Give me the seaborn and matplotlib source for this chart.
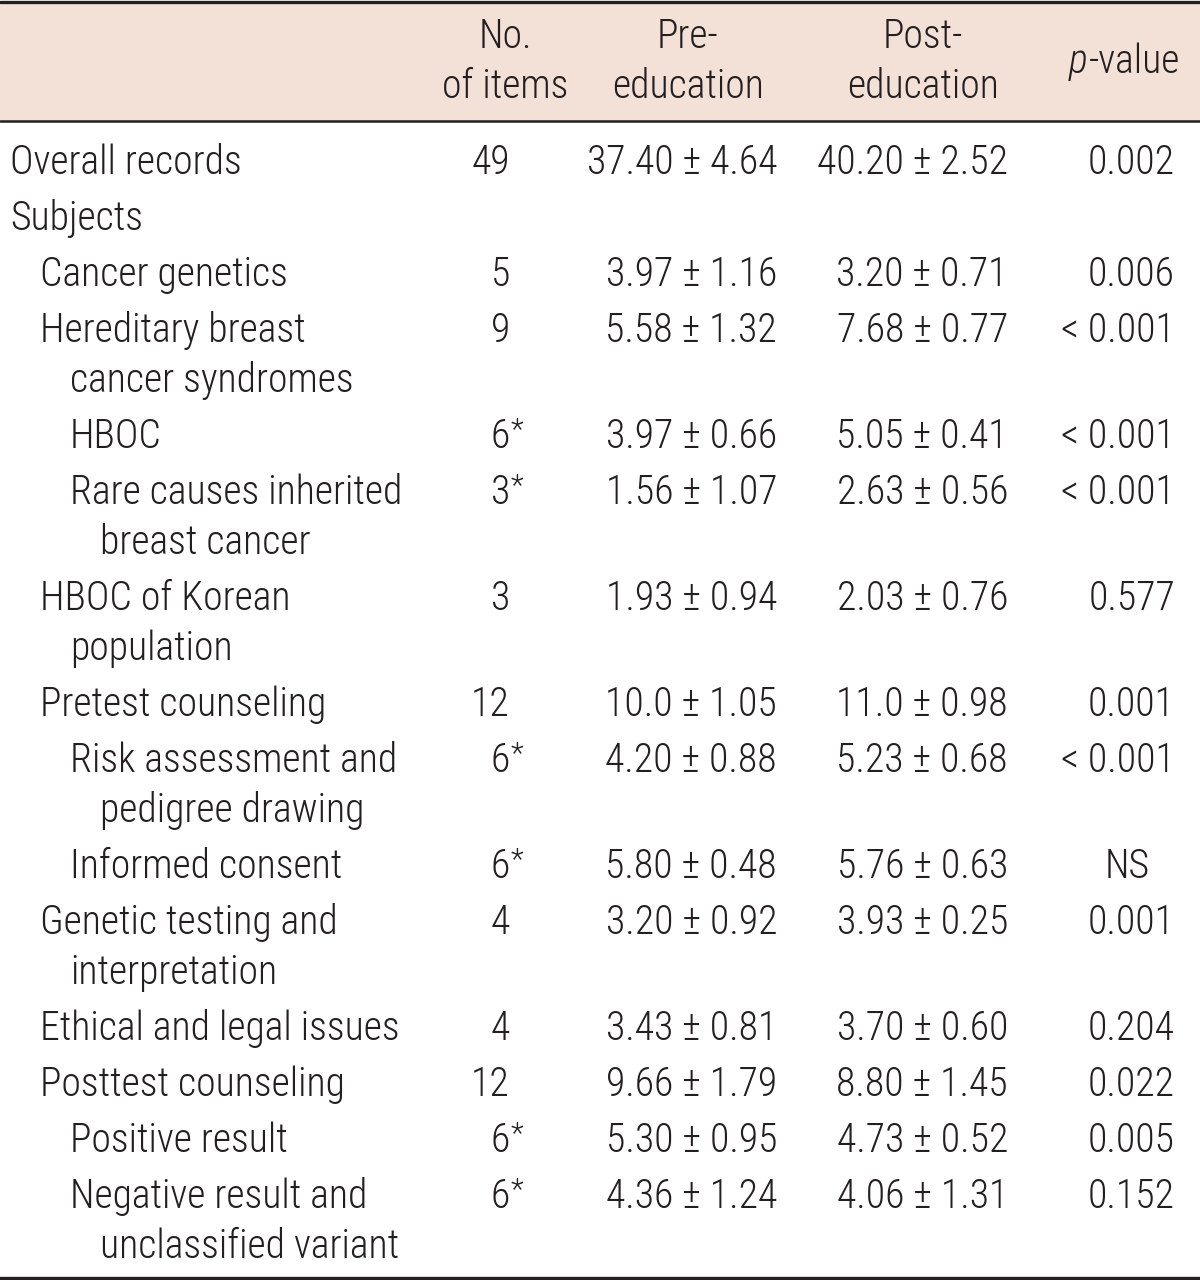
import matplotlib
matplotlib.use("Agg")
import matplotlib.pyplot as plt
import seaborn as sns
from matplotlib import font_manager

# ---- data ----
row_labels = ["Overall records", "Subjects", "Cancer genetics",
              "Hereditary breast\ncancer syndromes", "HBOC",
              "Rare causes inherited\nbreast cancer", "HBOC of Korean\npopulation",
              "Pretest counseling", "Risk assessment and\npedigree drawing",
              "Informed consent", "Genetic testing and\ninterpretation",
              "Ethical and legal issues", "Posttest counseling", "Positive result",
              "Negative result and\nunclassified variant"]
row_indent = [0, 0, 1, 1, 2, 2, 1, 1, 2, 2, 1, 1, 1, 2, 2]
n_items = ["49", "", "5", "9", "6*", "3*", "3", "12", "6*", "6*", "4", "4", "12", "6*", "6*"]
pre_edu = ["37.40±4.64", "", "3.97±1.16", "5.58±1.32", "3.97±0.66", "1.56±1.07",
           "1.93±0.94", "10.0±1.05", "4.20±0.88", "5.80±0.48", "3.20±0.92",
           "3.43±0.81", "9.66±1.79", "5.30±0.95", "4.36±1.24"]
post_edu = ["40.20±2.52", "", "3.20±0.71", "7.68±0.77", "5.05±0.41", "2.63±0.56",
            "2.03±0.76", "11.0±0.98", "5.23±0.68", "5.76±0.63", "3.93±0.25",
            "3.70±0.60", "8.80±1.45", "4.73±0.52", "4.06±1.31"]
p_values = ["0.002", "", "0.006", "<0.001", "<0.001", "<0.001", "0.577", "0.001",
            "<0.001", "NS", "0.001", "0.204", "0.022", "0.005", "0.152"]
headers = ["No.\nof items", "Pre-\neducation", "Post-\neducation", "p-value"]

sns.set_theme(style="white")
names = {f.name for f in font_manager.fontManager.ttflist}
fam = "Liberation Sans"
for cand in ["Roboto Condensed", "Liberation Sans Narrow", "Liberation Sans"]:
    if cand in names:
        fam = cand
        break
plt.rcParams["font.family"] = [fam, "DejaVu Sans"]
plt.rcParams["font.weight"] = "light"

INK = "#231f20"
fig = plt.figure(figsize=(12, 12.8), dpi=100)
ax = fig.add_axes([0, 0, 1, 1])
ax.set_xlim(0, 1200)
ax.set_ylim(1280, 0)
ax.axis("off")

# choose font size so that the first label has the reference width (~232 px)
renderer = fig.canvas.get_renderer()
probe = ax.text(0, 0, row_labels[0], fontsize=30)
w = probe.get_window_extent(renderer).width
probe.remove()
FS = min(32.0, 30 * 232.0 / w)


def fmt(s):
    return s.replace("±", " ± ").replace("<", "< ")


# header band and rules
ax.axhspan(2, 121, color="#f3e0d6", lw=0, zorder=0)
ax.axhline(1.5, color=INK, lw=2.4, zorder=2)
ax.axhline(121, color=INK, lw=1.8, zorder=2)
ax.axhline(1277.5, color=INK, lw=2.4, zorder=2)

# header text
hx = [505, 688, 923]
for x, h in zip(hx, headers[:3]):
    l1, l2 = h.split("\n")
    ax.text(x, 48, l1, ha="center", va="baseline", fontsize=FS, color=INK)
    ax.text(x, 98, l2, ha="center", va="baseline", fontsize=FS, color=INK)
pv_head = headers[3]
t_rest = ax.text(1180, 73, pv_head[1:], ha="right", va="baseline", fontsize=FS, color=INK)
bb = t_rest.get_window_extent(renderer)
x_left = ax.transData.inverted().transform((bb.x0, 0))[0]
ax.text(x_left - 1, 73, pv_head[0], ha="right", va="baseline", fontsize=FS,
        color=INK, style="italic")

# body
y = 174
for i, lab in enumerate(row_labels):
    lines = lab.split("\n")
    x0 = 10 + 30 * row_indent[i]
    for k, ln in enumerate(lines):
        ax.text(x0 + (30 if k else 0), y + 50 * k, ln, ha="left", va="baseline",
                fontsize=FS, color=INK)
    n = n_items[i]
    if n:
        digits = n.rstrip("*")
        ax.text(510, y, digits, ha="right", va="baseline", fontsize=FS, color=INK)
        if n.endswith("*"):
            ax.text(511, y - 10, "*", ha="left", va="baseline", fontsize=FS * 0.75, color=INK)
    if pre_edu[i]:
        ax.text(777, y, fmt(pre_edu[i]), ha="right", va="baseline", fontsize=FS, color=INK)
    if post_edu[i]:
        ax.text(1008, y, fmt(post_edu[i]), ha="right", va="baseline", fontsize=FS, color=INK)
    pv = p_values[i]
    if pv == "NS":
        ax.text(1127, y, pv, ha="center", va="baseline", fontsize=FS, color=INK)
    elif pv:
        ax.text(1175, y, fmt(pv), ha="right", va="baseline", fontsize=FS, color=INK)
    y += 56 + 50 * (len(lines) - 1)

fig.savefig("out.png", dpi=100)
